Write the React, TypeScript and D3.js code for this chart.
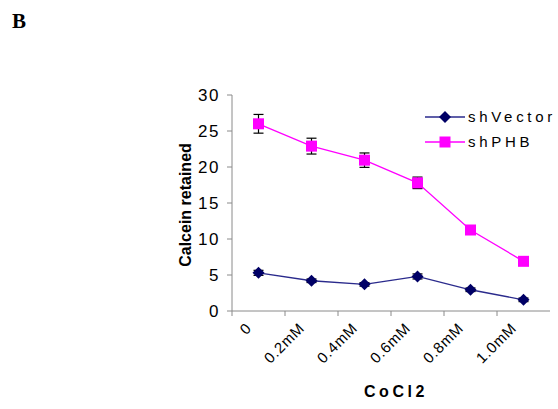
import React from "react";
import * as d3 from "d3";

const categories = ["0", "0.2mM", "0.4mM", "0.6mM", "0.8mM", "1.0mM"];
const shVector = [5.3, 4.2, 3.7, 4.8, 2.95, 1.55];
const shVectorErr = [0.35, 0.25, 0.25, 0.35, 0.25, 0.25];
const shPHB = [26.0, 22.9, 20.95, 17.8, 11.25, 6.9];
const shPHBErr = [1.3, 1.1, 1.0, 0.8, 0.5, 0.35];
const yTicks = [0, 5, 10, 15, 20, 25, 30];

const W = 558, H = 409;
const left = 232, right = 550, top = 95, bottom = 311;

export default function App() {
  const x = d3.scaleBand<string>().domain(categories).range([left, right]);
  const y = d3.scaleLinear().domain([0, 30]).range([bottom, top]);
  const cx = (c: string) => (x(c) as number) + x.bandwidth() / 2;
  const line = d3.line<number>().x((_, i) => cx(categories[i])).y((d) => y(d));
  const axisCol = "#8a8a8a";
  const font = "Arial, 'Liberation Sans', sans-serif";
  const vecCol = "#2a2a8c";
  const vecMark = "#000066";
  const phbCol = "#ff00ff";

  const errBars = (vals: number[], errs: number[]) =>
    vals.map((v, i) => {
      const px = cx(categories[i]);
      return (
        <g key={i} stroke="#000" strokeWidth={1.2}>
          <line x1={px} x2={px} y1={y(v + errs[i])} y2={y(v - errs[i])} />
          <line x1={px - 5} x2={px + 5} y1={y(v + errs[i])} y2={y(v + errs[i])} />
          <line x1={px - 5} x2={px + 5} y1={y(v - errs[i])} y2={y(v - errs[i])} />
        </g>
      );
    });

  const diamond = (px: number, py: number, k: string | number) => (
    <path key={k} d={`M${px},${py - 6}L${px + 6},${py}L${px},${py + 6}L${px - 6},${py}Z`} fill={vecMark} />
  );
  const square = (px: number, py: number, k: string | number) => (
    <rect key={k} x={px - 5.5} y={py - 5.5} width={11} height={11} fill={phbCol} />
  );

  return (
    <svg width={W} height={H} style={{ position: "absolute", left: 0, top: 0, background: "#fff" }}>
      <text x={12} y={28} fontFamily="'Times New Roman', 'Liberation Serif', serif" fontWeight="bold" fontSize={21}>B</text>

      {/* axes */}
      <line x1={left} x2={left} y1={top} y2={bottom} stroke={axisCol} />
      <line x1={left} x2={right} y1={bottom} y2={bottom} stroke={axisCol} />
      {yTicks.map((t) => (
        <g key={t}>
          <line x1={left - 5} x2={left} y1={y(t)} y2={y(t)} stroke={axisCol} />
          <text x={220} y={y(t)} dy="0.36em" textAnchor="end" fontFamily={font} fontSize={17} letterSpacing={1.5}>{t}</text>
        </g>
      ))}
      {categories.map((c) => (
        <line key={c} x1={(x(c) as number)} x2={(x(c) as number)} y1={bottom} y2={bottom + 5} stroke={axisCol} />
      ))}
      {categories.map((c) => (
        <text key={c} transform={`translate(${cx(c) - 6},${bottom + 18}) rotate(-45)`} textAnchor="end" fontFamily={font} fontSize={15} letterSpacing={0.8}>{c}</text>
      ))}
      <text transform={`translate(191,${(top + bottom) / 2 + 2}) rotate(-90)`} textAnchor="middle" fontFamily={font} fontWeight="bold" fontSize={16}>Calcein retained</text>
      <text x={396} y={397} textAnchor="middle" fontFamily={font} fontWeight="bold" fontSize={16} letterSpacing={3.6}>CoCl2</text>

      {/* series */}
      <path d={line(shVector) as string} fill="none" stroke={vecCol} strokeWidth={1.3} />
      <path d={line(shPHB) as string} fill="none" stroke={phbCol} strokeWidth={1.3} />
      {errBars(shPHB, shPHBErr)}
      {errBars(shVector, shVectorErr)}
      {shVector.map((v, i) => diamond(cx(categories[i]), y(v), i))}
      {shPHB.map((v, i) => square(cx(categories[i]), y(v), i))}

      {/* legend */}
      <line x1={425} x2={465} y1={117} y2={117} stroke={vecCol} strokeWidth={1.3} />
      {diamond(445, 117, "lv")}
      <text x={468} y={117} dy="0.36em" fontFamily={font} fontSize={15} letterSpacing={3.7}>shVector</text>
      <line x1={425} x2={465} y1={142} y2={142} stroke={phbCol} strokeWidth={1.3} />
      {square(445, 142, "lp")}
      <text x={468} y={142} dy="0.36em" fontFamily={font} fontSize={15} letterSpacing={3.7}>shPHB</text>
    </svg>
  );
}
